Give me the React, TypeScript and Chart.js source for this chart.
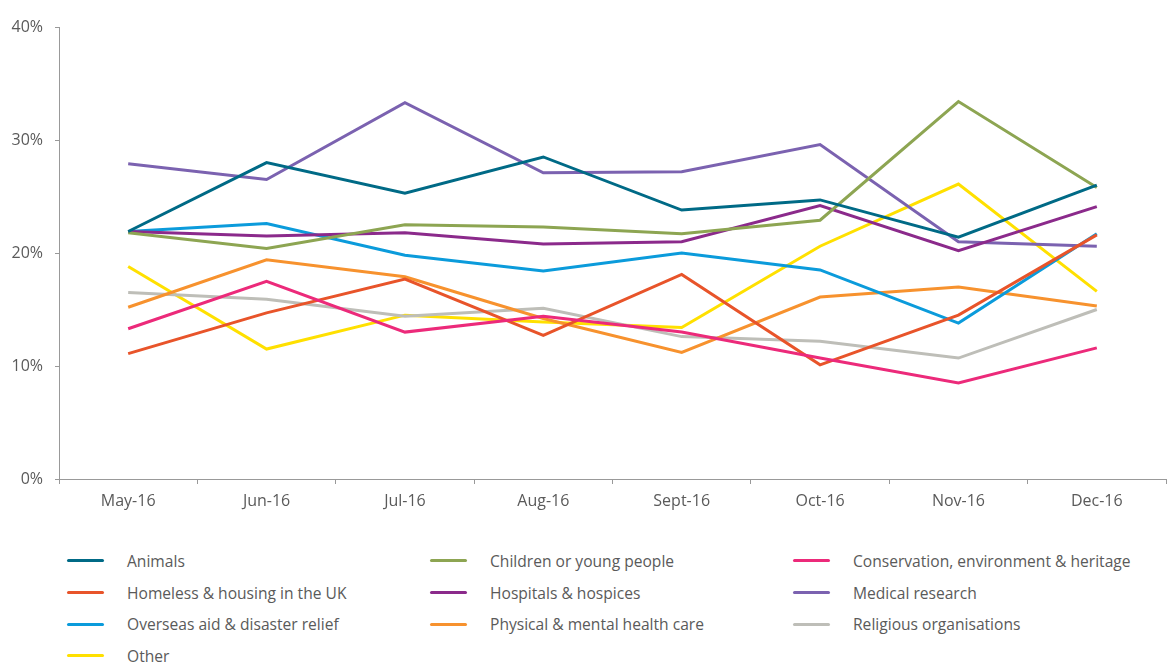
import React, { useEffect, useRef } from 'react';
import { Chart, registerables } from 'chart.js';

Chart.register(...registerables);

const categories = ['May-16', 'Jun-16', 'Jul-16', 'Aug-16', 'Sept-16', 'Oct-16', 'Nov-16', 'Dec-16'];

const animals = [21.9, 28.0, 25.3, 28.5, 23.8, 24.7, 21.4, 26.0];
const children = [21.8, 20.4, 22.5, 22.3, 21.7, 22.9, 33.4, 25.8];
const conservation = [13.3, 17.5, 13.0, 14.4, 13.0, 10.7, 8.5, 11.6];
const homeless = [11.1, 14.7, 17.7, 12.7, 18.1, 10.1, 14.5, 21.6];
const hospitals = [21.9, 21.5, 21.8, 20.8, 21.0, 24.2, 20.2, 24.1];
const medical = [27.9, 26.5, 33.3, 27.1, 27.2, 29.6, 21.0, 20.6];
const overseas = [21.9, 22.6, 19.8, 18.4, 20.0, 18.5, 13.8, 21.7];
const physical = [15.2, 19.4, 17.9, 14.2, 11.2, 16.1, 17.0, 15.3];
const religious = [16.5, 15.9, 14.4, 15.1, 12.6, 12.2, 10.7, 15.0];
const other = [18.8, 11.5, 14.5, 13.9, 13.4, 20.6, 26.1, 16.6];

const seriesNames = [
  'Animals',
  'Children or young people',
  'Conservation, environment & heritage',
  'Homeless & housing in the UK',
  'Hospitals & hospices',
  'Medical research',
  'Overseas aid & disaster relief',
  'Physical & mental health care',
  'Religious organisations',
  'Other',
];
const seriesValues = [animals, children, conservation, homeless, hospitals, medical, overseas, physical, religious, other];
const seriesColors = [
  '#006a86',
  '#8da552',
  '#ec2a7a',
  '#e8542a',
  '#8b2a8b',
  '#7b62b0',
  '#0b9bdb',
  '#f7922e',
  '#bebeb8',
  '#ffe000',
];

const yTicks = [0, 10, 20, 30, 40];

const FONT = '"Open Sans", "Noto Sans", sans-serif';
const TEXT = '#5a5a5a';
const AXIS = '#999999';

export default function App() {
  const ref = useRef<HTMLCanvasElement | null>(null);

  useEffect(() => {
    if (!ref.current) return;
    const chart = new Chart(ref.current, {
      type: 'line',
      data: {
        labels: categories,
        datasets: seriesNames.map((name, i) => ({
          label: name,
          data: seriesValues[i],
          borderColor: seriesColors[i],
          backgroundColor: seriesColors[i],
          borderWidth: 3,
          pointRadius: 0,
          tension: 0,
          fill: false,
        })),
      },
      options: {
        animation: false,
        responsive: false,
        devicePixelRatio: 1,
        layout: { padding: { top: 27, right: 4, left: 0, bottom: 0 } },
        plugins: {
          legend: { display: false },
          tooltip: { enabled: false },
        },
        scales: {
          x: {
            type: 'category',
            offset: true,
            grid: {
              display: true,
              drawOnChartArea: false,
              drawTicks: true,
              tickLength: 5,
              color: AXIS,
              offset: true,
            },
            border: { display: true, color: AXIS, width: 1 },
            ticks: {
              color: TEXT,
              font: { family: FONT, size: 16 },
              padding: 8,
              maxRotation: 0,
            },
            afterFit: (s: any) => {
              s.height = 41;
            },
          },
          y: {
            min: 0,
            max: 40,
            afterBuildTicks: (s: any) => {
              s.ticks = yTicks.map((v) => ({ value: v }));
            },
            grid: {
              display: true,
              drawOnChartArea: false,
              drawTicks: true,
              tickLength: 4,
              color: AXIS,
            },
            border: { display: true, color: AXIS, width: 1 },
            ticks: {
              color: TEXT,
              font: { family: FONT, size: 16 },
              padding: 12,
              callback: (v: any) => v + '%',
            },
            afterFit: (s: any) => {
              s.width = 59;
            },
          },
        },
      },
    });
    return () => chart.destroy();
  }, []);

  return (
    <div style={{ position: 'absolute', left: 0, top: 0, width: 1170, height: 664, background: '#fff', fontFamily: FONT }}>
      <canvas ref={ref} width={1170} height={520} style={{ position: 'absolute', left: 0, top: 0 }} />
      <div
        style={{
          position: 'absolute',
          left: 67,
          top: 545,
          display: 'grid',
          gridTemplateColumns: '363px 363px 363px',
          gridAutoRows: '31.7px',
        }}
      >
        {seriesNames.map((name, i) => (
          <div key={name} style={{ display: 'flex', alignItems: 'center', height: 31.7 }}>
            <span
              style={{
                display: 'inline-block',
                width: 37,
                height: 3,
                borderRadius: 2,
                background: seriesColors[i],
                marginRight: 23,
              }}
            />
            <span style={{ color: TEXT, fontSize: 15.6, whiteSpace: 'nowrap' }}>{name}</span>
          </div>
        ))}
      </div>
    </div>
  );
}
